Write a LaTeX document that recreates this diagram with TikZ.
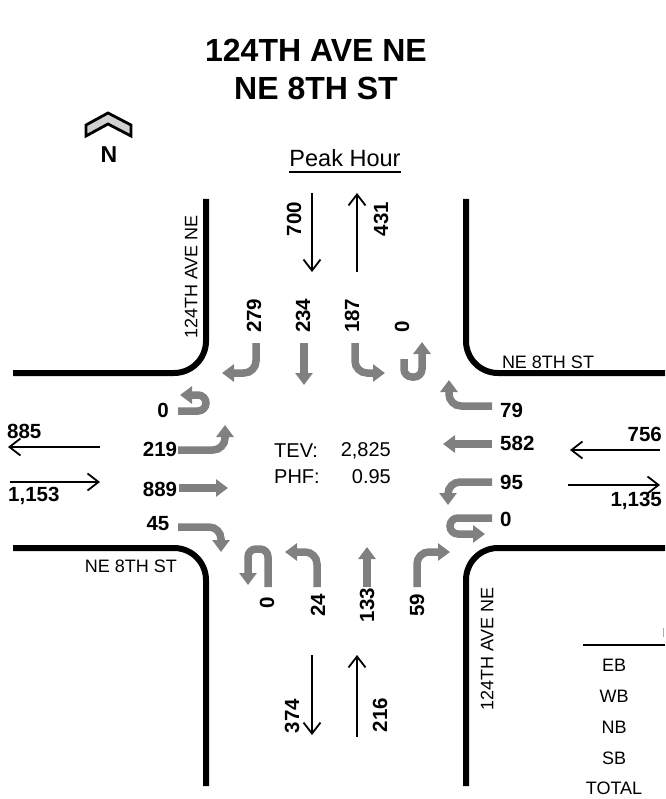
\documentclass[tikz,border=0pt]{standalone}
\usepackage{fontspec}
\setmainfont{Liberation Sans}
\usetikzlibrary{arrows.meta}
\begin{document}
\begin{tikzpicture}[x=1pt,y=-1pt,
  curbline/.style={line width=6pt, rounded corners=32pt},
  grayturn/.style={line width=7.5pt, draw=gray, -{Triangle[length=12pt,width=17pt]}, rounded corners=12pt},
  grayu/.style={grayturn, rounded corners=8pt},
  flowarrow/.style={line width=1.8pt, -{Straight Barb[length=11pt,width=17pt]}},
  vol/.style={font=\fontsize{20.5}{20}\selectfont\bfseries, inner sep=0pt},
  vvol/.style={vol, rotate=90},
  streetlbl/.style={font=\fontsize{18}{18}\selectfont, inner sep=0pt},
  infotext/.style={font=\fontsize{20}{20}\selectfont, inner sep=0pt},
  tabtext/.style={font=\fontsize{18}{18}\selectfont, inner sep=0pt},
  titletext/.style={font=\fontsize{32}{32}\selectfont\bfseries, inner sep=0pt},
  ]
\useasboundingbox (0,0) rectangle (665,799);

% title
\node[titletext] (title1) at (316,50) {124TH AVE NE};
\node[titletext] (title2) at (316,88) {NE 8TH ST};

% north arrow
\draw[line width=2.8pt, fill=black!18, line join=miter] (86,125) -- (108,113) -- (131,125) -- (131,136) -- (108,124) -- (86,136) -- cycle;
\node[font=\fontsize{23}{23}\selectfont\bfseries, inner sep=0pt] (north) at (109,155) {N};

% peak hour
\node[font=\fontsize{23.5}{24}\selectfont, inner sep=0pt] (peak) at (345,158) {Peak Hour};
\draw[line width=1.5pt] ([yshift=-5pt]peak.south west) -- ([yshift=-5pt]peak.south east);

% curbs
\draw[curbline] (206,199) -- (206,373) -- (13,373);
\draw[curbline] (466,199) -- (466,373) -- (665,373);
\draw[curbline] (13,548) -- (206,548) -- (206,786);
\draw[curbline] (665,548) -- (466,548) -- (466,786);

% street labels
\node[streetlbl, rotate=90] (s1) at (191,277) {124TH AVE NE};
\node[streetlbl, rotate=90] (s2) at (487,649) {124TH AVE NE};
\node[streetlbl] (s3) at (548,362) {NE 8TH ST};
\node[streetlbl] (s4) at (131,566) {NE 8TH ST};

% leg totals (black arrows)
\coordinate (nA1) at (312,193); \coordinate (nA2) at (312,272);
\coordinate (nB1) at (357,272); \coordinate (nB2) at (357,193);
\draw[flowarrow] (nA1) -- (nA2);
\draw[flowarrow] (nB1) -- (nB2);
\node[vvol] (n700) at (294,219) {700};
\node[vvol] (n431) at (381,219) {431};

\coordinate (sA1) at (312,655); \coordinate (sA2) at (312,735);
\coordinate (sB1) at (357,737); \coordinate (sB2) at (357,655);
\draw[flowarrow] (sA1) -- (sA2);
\draw[flowarrow] (sB1) -- (sB2);
\node[vvol] (n374) at (292,716) {374};
\node[vvol] (n216) at (380,715) {216};

\coordinate (wA1) at (100,447); \coordinate (wA2) at (8,447);
\coordinate (wB1) at (10,482); \coordinate (wB2) at (100,482);
\draw[flowarrow] (wA1) -- (wA2);
\draw[flowarrow] (wB1) -- (wB2);
\node[vol, anchor=west] (n885) at (7,431) {885};
\node[vol, anchor=west] (n1153) at (8,496) {1,153};

\coordinate (eA1) at (660,450); \coordinate (eA2) at (570,450);
\coordinate (eB1) at (568,485); \coordinate (eB2) at (660,485);
\draw[flowarrow] (eA1) -- (eA2);
\draw[flowarrow] (eB1) -- (eB2);
\node[vol, anchor=east] (n756) at (662,434) {756};
\node[vol, anchor=east] (n1135) at (662,501) {1,135};

% SB approach
\draw[grayturn] (256,343) -- (256,373) -- (222,373);
\draw[grayturn] (304,343) -- (304,385);
\draw[grayturn] (355,343) -- (355,373) -- (385,373);
\draw[grayu] (404,359) -- (404,377) -- (422,377) -- (422,342);
\node[vvol, anchor=west] (sb279) at (254,333) {279};
\node[vvol, anchor=west] (sb234) at (303,333) {234};
\node[vvol, anchor=west] (sb187) at (352,333) {187};
\node[vvol, anchor=west] (sb0) at (402,333) {0};

% EB approach
\draw[grayu] (178,411) -- (206,411) -- (206,395) -- (180,395);
\draw[grayturn] (178,450) -- (225,450) -- (225,425);
\draw[grayturn] (179,488) -- (228,488);
\draw[grayturn] (178,527) -- (221,527) -- (221,552);
\node[vol] (eb0) at (163,410) {0};
\node[vol] (eb219) at (160,449) {219};
\node[vol] (eb889) at (160,489) {889};
\node[vol] (eb45) at (158,524) {45};

% WB approach
\draw[grayturn] (492,406) -- (449,406) -- (449,380);
\draw[grayturn] (492,444) -- (443,444);
\draw[grayturn] (492,482) -- (448,482) -- (448,505);
\draw[grayu] (492,518) -- (450,518) -- (450,534) -- (485,534);
\node[vol, anchor=west] (wb79) at (500,410) {79};
\node[vol, anchor=west] (wb582) at (500,443) {582};
\node[vol, anchor=west] (wb95) at (500,482) {95};
\node[vol, anchor=west] (wb0) at (500,519) {0};

% NB approach
\draw[grayu] (268,587) -- (268,549) -- (248,549) -- (248,585);
\draw[grayturn] (317,587) -- (317,552) -- (285,552);
\draw[grayturn] (367,587) -- (367,547);
\draw[grayturn] (417,587) -- (417,552) -- (450,552);
\node[vvol] (nb0) at (267,603) {0};
\node[vvol] (nb24) at (318,605) {24};
\node[vvol] (nb133) at (367,605) {133};
\node[vvol] (nb59) at (417,605) {59};

% TEV / PHF
\node[infotext, anchor=west] (tev) at (274,451) {TEV:};
\node[infotext, anchor=east] (tevv) at (391,451) {2,825};
\node[infotext, anchor=west] (phf) at (274,477) {PHF:};
\node[infotext, anchor=east] (phfv) at (391,477) {0.95};

% table fragment
\draw[line width=2.2pt] (583,645) -- (665,645);
\draw[line width=1.5pt, draw=orange!80] (663.5,628) -- (663.5,637);
\node[tabtext] (tEB) at (614,665) {EB};
\node[tabtext] (tWB) at (614,696) {WB};
\node[tabtext] (tNB) at (614,727) {NB};
\node[tabtext] (tSB) at (614,758) {SB};
\node[tabtext] (tTOT) at (614,788) {TOTAL};
\end{tikzpicture}
\end{document}
